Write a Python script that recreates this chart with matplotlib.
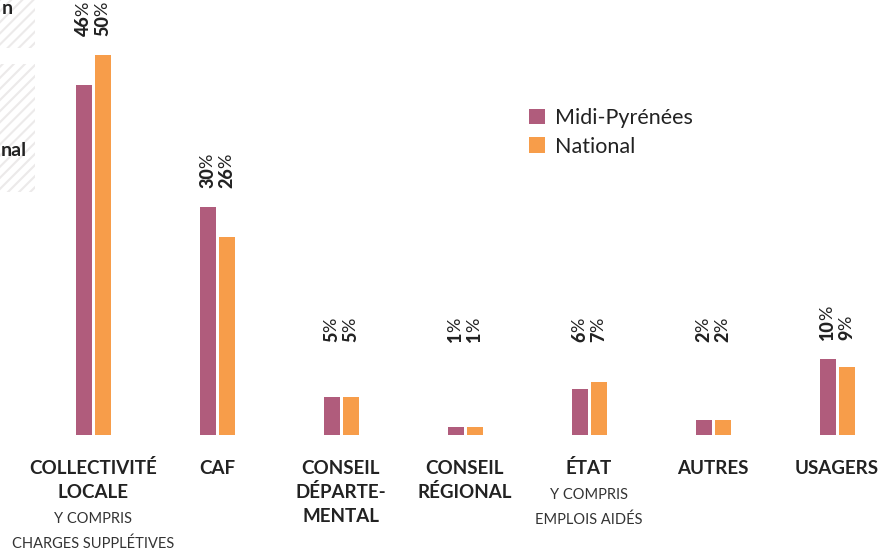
import matplotlib
matplotlib.use("Agg")
import matplotlib.pyplot as plt
from matplotlib.patches import Rectangle

plt.rcParams['font.family'] = ['Lato', 'DejaVu Sans']
plt.rcParams['hatch.linewidth'] = 1.5

# data
categories = [
    ["COLLECTIVITÉ", "LOCALE"],
    ["CAF"],
    ["CONSEIL", "DÉPARTE-", "MENTAL"],
    ["CONSEIL", "RÉGIONAL"],
    ["ÉTAT"],
    ["AUTRES"],
    ["USAGERS"],
]
sublabels = [
    ["Y COMPRIS", "CHARGES SUPPLÉTIVES"],
    [],
    [],
    [],
    ["Y COMPRIS", "EMPLOIS AIDÉS"],
    [],
    [],
]
midi_pyrenees = [46, 30, 5, 1, 6, 2, 10]
national = [50, 26, 5, 1, 7, 2, 9]

c_mp = '#b05c7c'
c_nat = '#f79d4a'

W, H = 891, 552
fig = plt.figure(figsize=(W / 100, H / 100), dpi=100)

# cropped hatched panels on the left edge
for (x0, y0, w, h) in [(0, 0, 35, 48), (0, 64, 35, 128)]:
    fig.patches.append(Rectangle((x0 / W, 1 - (y0 + h) / H), w / W, h / H,
                                 transform=fig.transFigure, facecolor='white',
                                 edgecolor='#eceaea', linewidth=0, hatch='///'))
fig.text(2 / W, 1 - 9 / H, "n", ha='left', va='center', fontsize=14,
         fontweight='bold', color='#222222')
fig.text(1 / W, 1 - 151 / H, "nal", ha='left', va='center', fontsize=14,
         fontweight='bold', color='#222222')

# axes placed so that x=0 -> 93px, 124px per group, y=0 -> 435px, 7.6px per %
px_per_x = 124
px_per_y = 7.6
xmin, xmax = -0.6, 6.4
ymax = 57
left = (93 + xmin * px_per_x) / W
width = (xmax - xmin) * px_per_x / W
bottom = (H - 435) / H
height = ymax * px_per_y / H
ax = fig.add_axes([left, bottom, width, height])
ax.set_xlim(xmin, xmax)
ax.set_ylim(0, ymax)
ax.axis('off')

bw = 16 / px_per_x
off = 9.5 / px_per_x
x = list(range(len(categories)))
ax.bar([i - off for i in x], midi_pyrenees, width=bw, color=c_mp, label='Midi-Pyrénées')
ax.bar([i + off for i in x], national, width=bw, color=c_nat, label='National')

# value labels: heavy number, lighter % sign on top (rotated)
nums = []
for i in x:
    ly = max(max(midi_pyrenees[i], national[i]) + 2.5, 12.3)
    for dx, v in [(-off, midi_pyrenees[i]), (off, national[i])]:
        t = ax.text(i + dx, ly, str(v), rotation=90, ha='center', va='bottom',
                    fontsize=13, fontweight='black', color='#222222')
        nums.append((t, i + dx, ly))
renderer = fig.canvas.get_renderer()
for t, xx, ly in nums:
    h = t.get_window_extent(renderer).height * 72 / 100
    ax.annotate('%', xy=(xx, ly), xytext=(0, h - 0.5), textcoords='offset points',
                rotation=90, ha='center', va='bottom', fontsize=13, color='#222222')

# category labels below the bars (offsets in pixels from baseline)
pt = 72 / 100
for i in x:
    yoff = 33
    for line in categories[i]:
        ax.annotate(line, xy=(i, 0), xytext=(0, -yoff * pt), textcoords='offset points',
                    ha='center', va='center', fontsize=13.5, fontweight='bold',
                    color='#222222', annotation_clip=False)
        yoff += 24
    yoff += 3
    for line in sublabels[i]:
        ax.annotate(line, xy=(i, 0), xytext=(0, -yoff * pt), textcoords='offset points',
                    ha='center', va='center', fontsize=10.5, color='#333333',
                    annotation_clip=False)
        yoff += 25

leg = fig.legend(loc='upper left', bbox_to_anchor=(529 / W, 1 - 108 / H), frameon=False,
                 fontsize=15.5, handlelength=0.73, handleheight=0.73,
                 handletextpad=0.5, labelspacing=0.4, borderpad=0, borderaxespad=0)
for t in leg.get_texts():
    t.set_color('#222222')

fig.savefig('out.png', dpi=100)
